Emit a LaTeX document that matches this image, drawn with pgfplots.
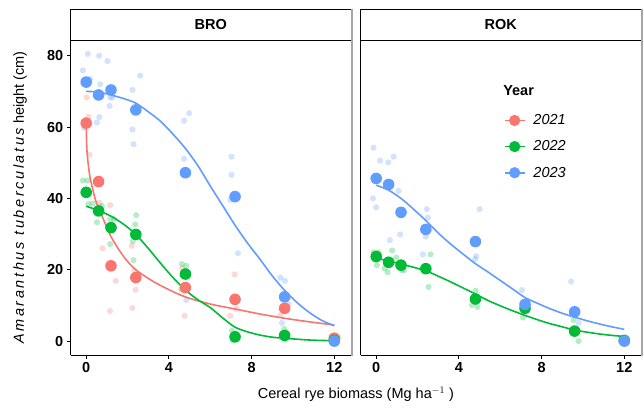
\documentclass[border=0pt]{standalone}
\usepackage{pgfplots}
\pgfplotsset{compat=1.18}
\usepackage{fontspec}
\setmainfont{Liberation Sans}
\definecolor{c21}{HTML}{F8766D}
\definecolor{c22}{HTML}{00BA38}
\definecolor{c23}{HTML}{619CFF}
\newcommand{\fs}{\fontsize{14.5}{16}\selectfont}
\pgfplotsset{
  panel/.style={scale only axis,width=280.3pt,height=315pt,
    xmin=-0.75,xmax=12.81,ymin=-3.9,ymax=84.4,
    xtick={0,4,8,12},
    axis lines*=left,axis line style={-,black,line width=0.8pt},
    tick align=outside,major tick length=4pt,tick pos=left,
    tick style={black,line width=0.8pt},
    /pgf/number format/assume math mode=true,
    tick label style={font=\fs\bfseries},
    clip=false},
  raw/.style={only marks,mark=*,mark size=3.1pt,forget plot,color=#1,
    mark options={solid,draw opacity=0,fill=#1,fill opacity=0.28}},
  avg/.style={only marks,mark=*,mark size=5.8pt,forget plot,color=#1,
    mark options={solid,draw opacity=0,fill=#1}},
  fit/.style={no marks,#1,line width=1.6pt,smooth,tension=0.5,forget plot},
}
\begin{document}
\begin{tikzpicture}
\path[use as bounding box] (0pt,0pt) rectangle (644pt,-408pt);
% BRO
\begin{axis}[panel,at={(70.7pt,-355pt)},anchor=south west,
  ytick={0,20,40,60,80},
  ylabel={\fs{\addfontfeature{LetterSpace=18}\itshape Amaranthus tuberculatus} height (cm)},
  ylabel style={at={(axis description cs:-0.18,0.5)},anchor=center},
  xlabel={\fs Cereal rye biomass (Mg ha$^{-1}$ )},
  xlabel style={at={(axis description cs:1.0175,-0.09)},anchor=north},
  extra description/.code={
    \draw[black,line width=0.8pt,fill=white] (axis description cs:0,1) rectangle (axis description cs:1,1.0975);
    \node[font=\fs\bfseries] at (axis description cs:0.5,1.049) {BRO};
    \draw[black!35,line width=2pt] (axis description cs:1.0036,-0.002) -- (axis description cs:1.0036,1.0975);
  }]
\addplot[raw=c21] coordinates {(0.03,68.3)(0.11,62.9)(0.16,52.2)(0.6,45.5)(0.64,38.8)(1.16,38.1)(0.79,26.0)(1.43,16.9)(1.15,8.4)(2.21,26.7)(2.32,19.9)(2.39,14.4)(2.23,9.3)(4.63,20.4)(4.76,7.1)(4.9,15.5)(7.18,18.7)(7.26,9.0)(6.97,7.1)(9.39,7.3)(9.5,9.5)(11.9,0.5)(12.2,1.0)};
\addplot[raw=c22] coordinates {(-0.16,45.0)(0.06,45.0)(0.11,38.4)(0.32,38.6)(0.76,37.9)(0.52,33.3)(1.16,34.2)(1.35,34.2)(1.16,27.2)(2.42,35.3)(2.37,32.7)(2.26,28.0)(2.29,22.7)(4.63,21.6)(4.84,21.1)(4.6,14.5)(7.05,2.9)(7.1,0.2)(9.58,3.4)(9.6,0.5)(12.1,0.3)};
\addplot[raw=c23] coordinates {(0.08,80.5)(0.63,80.0)(1.03,78.5)(-0.16,75.9)(0.19,73.5)(0.68,72.0)(1.16,68.3)(1.27,68.3)(1.13,65.9)(2.24,70.4)(2.61,74.4)(0.64,62.8)(0.52,61.3)(-0.1,59.8)(2.24,59.3)(2.29,55.2)(4.98,63.9)(4.74,61.8)(4.73,51.1)(4.84,11.5)(7.03,51.7)(7.03,46.6)(6.97,39.6)(7.34,24.6)(9.39,17.8)(9.61,16.9)(9.79,10.3)(9.47,5.1)(12,0.3)};
\addplot[fit=c21] coordinates {(0,61)(0.03,54)(0.1,49.5)(0.2,45.5)(0.45,39.6)(0.7,36)(1.2,29.3)(1.8,23.8)(2.4,20)(3.4,16.2)(4.7,12.6)(6,10.4)(7.2,9.0)(8.4,7.6)(9.6,6.4)(10.8,5.4)(12,4.5)};
\addplot[fit=c22] coordinates {(0,37.8)(0.6,36.6)(1.2,35)(1.8,32.8)(2.4,29.9)(3,26)(3.6,21.8)(4.2,17.8)(4.8,14.3)(5.4,11.6)(6,9.4)(6.6,6.5)(7.2,3.9)(7.8,2.6)(8.4,1.7)(9,1.1)(9.6,0.8)(10.8,0.3)(12,0.1)};
\addplot[fit=c23] coordinates {(0,70)(0.6,69.8)(1.2,69)(1.8,68)(2.4,66.7)(3,64.3)(3.6,61.6)(4.2,58)(4.8,54)(5.4,49.2)(6,43.5)(6.6,38)(7.2,32.5)(7.8,27.5)(8.4,23)(9,18.3)(9.6,14.2)(10.2,10.8)(10.8,8)(11.4,5.8)(12,4.3)};
\addplot[avg=c21] coordinates {(0,61.1)(0.6,44.7)(1.2,21.1)(2.4,17.8)(4.8,15.0)(7.2,11.7)(9.6,9.2)(12,0.8)};
\addplot[avg=c22] coordinates {(0,41.7)(0.6,36.5)(1.2,31.8)(2.4,29.9)(4.8,18.8)(7.2,1.2)(9.6,1.6)(12,0.2)};
\addplot[avg=c23] coordinates {(0,72.6)(0.6,69.0)(1.2,70.4)(2.4,64.8)(4.8,47.2)(7.2,40.5)(9.6,12.4)(12,0)};
\end{axis}
% ROK
\begin{axis}[panel,at={(360.7pt,-355pt)},anchor=south west,
  ytick=\empty,
  legend style={at={(axis description cs:0.51,0.77)},anchor=north west,draw=none,fill=none,
    font=\fs\itshape,row sep=10.5pt,inner sep=0pt,nodes={inner sep=2pt}},
  legend cell align=left,
  legend image code/.code={\draw[#1,line width=1.6pt] (0pt,0pt) -- (20pt,0pt); \fill[#1] (10pt,0pt) circle (5.4pt);},
  extra description/.code={
    \draw[black,line width=0.8pt,fill=white] (axis description cs:0,1) rectangle (axis description cs:1,1.0975);
    \node[font=\fs\bfseries] at (axis description cs:0.5,1.049) {ROK};
    \draw[black!35,line width=2pt] (axis description cs:1.0036,-0.002) -- (axis description cs:1.0036,1.0975);
    \node[font=\fs\bfseries,anchor=west,inner sep=0pt] at (axis description cs:0.508,0.841) {Year};
  }]
\addlegendimage{c21}\addlegendentry{\hspace*{6pt}2021}
\addlegendimage{c22}\addlegendentry{\hspace*{6pt}2022}
\addlegendimage{c23}\addlegendentry{\hspace*{6pt}2023}
\addplot[raw=c22] coordinates {(-0.13,24.9)(0.11,24.9)(0.03,21.3)(0.4,20.4)(0.55,19.3)(0.77,25.4)(0.97,23.4)(1.24,19.9)(1.35,19.9)(2.63,24.3)(2.53,15.2)(4.82,14.1)(4.63,10.1)(4.9,9.6)(7.1,6.6)(7.15,8.5)(9.55,5.9)(9.79,0.0)(12.1,0.3)};
\addplot[raw=c23] coordinates {(-0.13,54.2)(0.19,50.6)(0.58,50.1)(0.84,51.7)(-0.16,40.0)(0,37.5)(1.08,42.1)(1.16,29.9)(0.66,28.3)(2.45,37.0)(2.5,34.6)(2.4,29.3)(2.26,24.3)(5.0,37.0)(4.84,23.8)(4.79,23.0)(7.05,14.3)(9.43,16.7)(9.79,5.1)(12,0.3)};
\addplot[fit=c22] coordinates {(0,23.2)(0.6,22.5)(1.2,21.6)(1.8,20.7)(2.4,19.7)(3,18.2)(3.6,16.6)(4.2,14.9)(4.8,13.2)(5.4,11.4)(6,9.9)(6.6,8.5)(7.2,7.2)(7.8,6.0)(8.4,4.9)(9,4.0)(9.6,3.1)(10.2,2.5)(10.8,2.0)(11.4,1.6)(12,1.3)};
\addplot[fit=c23] coordinates {(0,43.7)(0.6,42.3)(1.2,40)(1.8,37)(2.4,33.8)(3,30.3)(3.6,27.2)(4.2,24.4)(4.8,21.7)(5.4,19.4)(6,17)(6.6,14.6)(7.2,12.2)(7.8,10.6)(8.4,9.1)(9,7.8)(9.6,6.7)(10.2,5.7)(10.8,4.8)(11.4,4)(12,3.3)};
\addplot[avg=c22] coordinates {(0,23.7)(0.6,22.1)(1.2,21.3)(2.4,20.3)(4.8,11.8)(7.2,9.2)(9.6,2.8)(12,0.2)};
\addplot[avg=c23] coordinates {(0,45.6)(0.6,43.9)(1.2,36.1)(2.4,31.3)(4.8,27.9)(7.2,10.3)(9.6,8.2)(12,0)};
\end{axis}
\end{tikzpicture}
\end{document}
